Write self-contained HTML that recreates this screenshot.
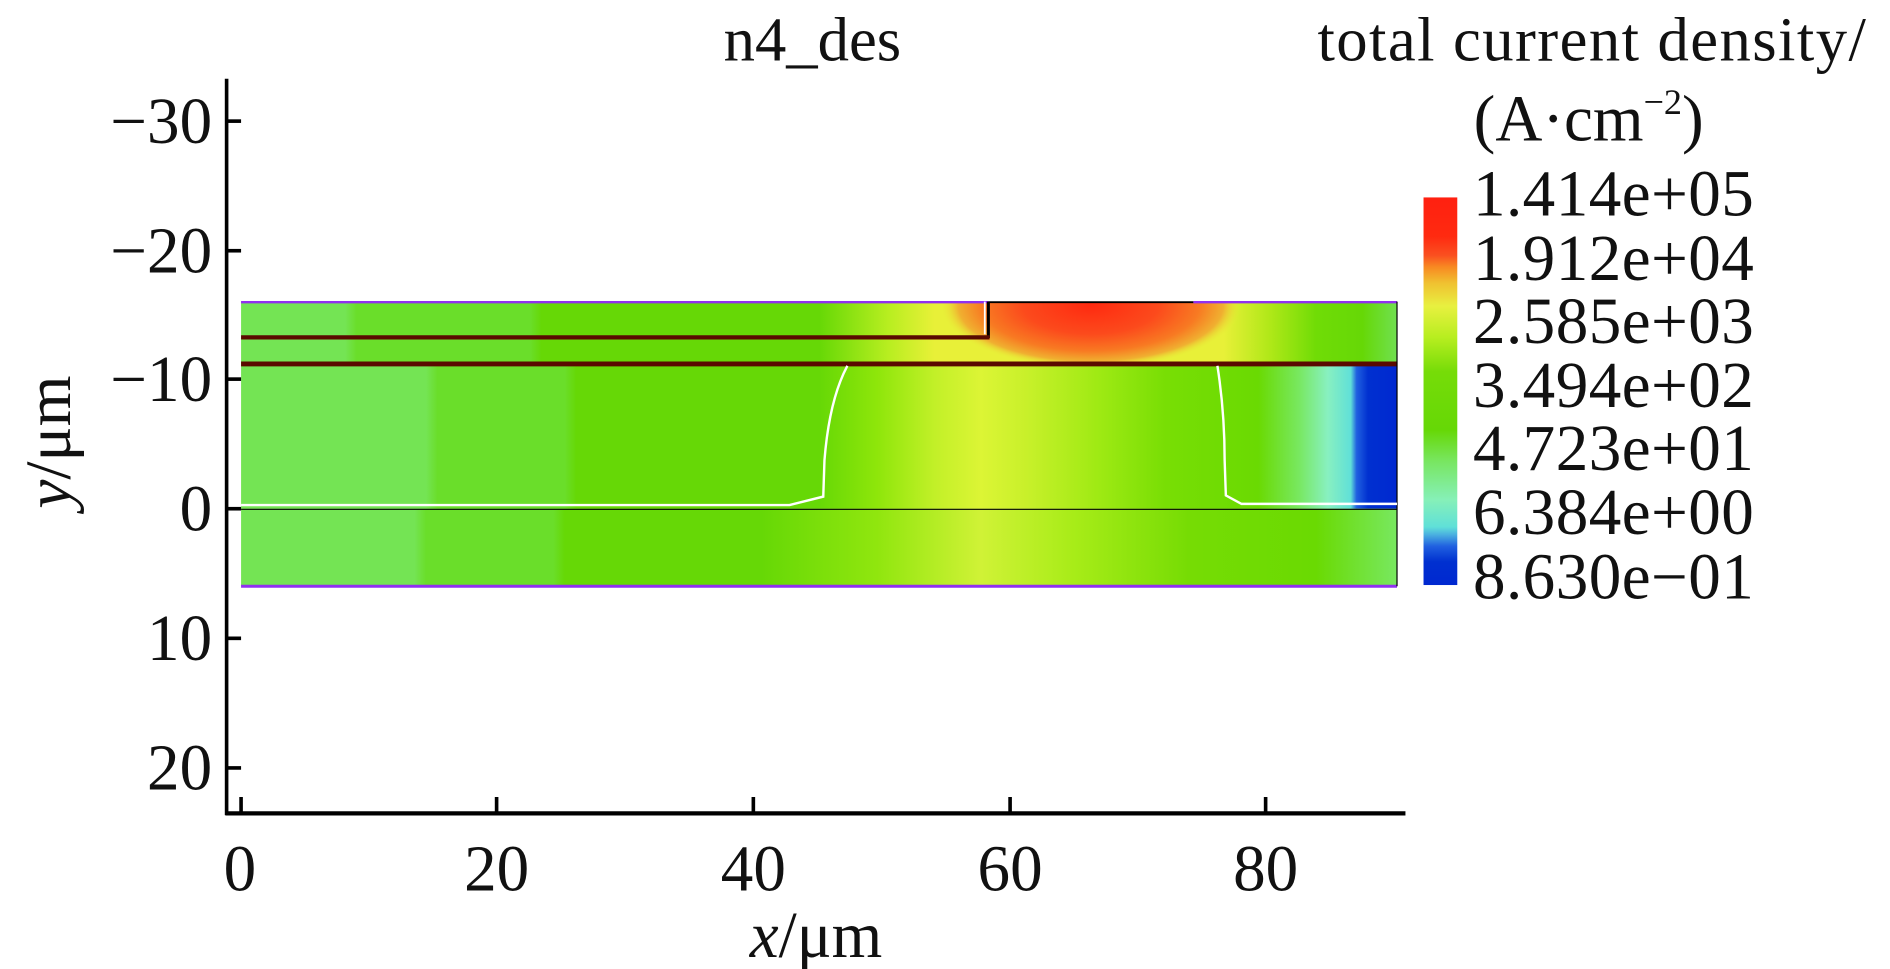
<!DOCTYPE html>
<html><head><meta charset="utf-8"><style>
html,body{margin:0;padding:0;background:#fff;width:1890px;height:969px;overflow:hidden}
svg{display:block}
text{font-family:"Liberation Serif",serif;fill:#111}
</style></head><body>
<svg width="1890" height="969" viewBox="0 0 1568 800" preserveAspectRatio="none">
<defs>
<clipPath id="ctop"><rect x="200" y="249" width="959" height="51"/></clipPath>
<linearGradient id="gmid" x1="200" x2="1159" gradientUnits="userSpaceOnUse">
<stop offset="0" stop-color="#74e454"/><stop offset="0.16" stop-color="#74e454"/>
<stop offset="0.17" stop-color="#6ade2a"/><stop offset="0.28" stop-color="#6ade2a"/>
<stop offset="0.29" stop-color="#66d806"/><stop offset="0.5" stop-color="#66d806"/>
<stop offset="0.55" stop-color="#8ee60a"/><stop offset="0.6" stop-color="#c2f028"/>
<stop offset="0.64" stop-color="#dcf535"/><stop offset="0.68" stop-color="#c8f02a"/>
<stop offset="0.74" stop-color="#a0ea14"/><stop offset="0.8" stop-color="#78de04"/>
<stop offset="0.88" stop-color="#6ada02"/><stop offset="0.915" stop-color="#78e860"/>
<stop offset="0.94" stop-color="#88f0c0"/><stop offset="0.96" stop-color="#60e0d8"/>
<stop offset="0.965" stop-color="#2060e0"/><stop offset="0.975" stop-color="#0030d0"/><stop offset="1" stop-color="#0028d0"/>
</linearGradient>
<linearGradient id="gbot" x1="200" x2="1159" gradientUnits="userSpaceOnUse">
<stop offset="0" stop-color="#74e454"/><stop offset="0.15" stop-color="#74e454"/>
<stop offset="0.16" stop-color="#6ade2a"/><stop offset="0.27" stop-color="#6ade2a"/>
<stop offset="0.28" stop-color="#66d806"/><stop offset="0.45" stop-color="#66d806"/>
<stop offset="0.55" stop-color="#90e60e"/><stop offset="0.64" stop-color="#d0f236"/>
<stop offset="0.72" stop-color="#a8ec18"/><stop offset="0.82" stop-color="#76dc04"/>
<stop offset="0.93" stop-color="#6ada02"/><stop offset="1" stop-color="#78e860"/>
</linearGradient>
<linearGradient id="gtop" x1="200" x2="1159" gradientUnits="userSpaceOnUse">
<stop offset="0" stop-color="#74e454"/><stop offset="0.09" stop-color="#74e454"/>
<stop offset="0.1" stop-color="#6ade2a"/><stop offset="0.25" stop-color="#6ade2a"/>
<stop offset="0.26" stop-color="#66d806"/><stop offset="0.5" stop-color="#66d806"/>
<stop offset="0.56" stop-color="#b8ee20"/><stop offset="0.6" stop-color="#e8f038"/>
<stop offset="0.85" stop-color="#e8f038"/>
<stop offset="0.89" stop-color="#b0e818"/><stop offset="0.93" stop-color="#70dc06"/>
<stop offset="0.97" stop-color="#66d806"/><stop offset="1" stop-color="#70e050"/>
</linearGradient>
<radialGradient id="gred" cx="905" cy="252" r="125" gradientTransform="translate(905 252) scale(1 0.42) translate(-905 -252)" gradientUnits="userSpaceOnUse">
<stop offset="0" stop-color="#ff2a10"/><stop offset="0.45" stop-color="#fc4a1c"/>
<stop offset="0.72" stop-color="#f87a22"/><stop offset="0.88" stop-color="#f0b030"/><stop offset="1" stop-color="#e8f038" stop-opacity="0"/>
</radialGradient>
<linearGradient id="cbar" x1="0" y1="163" x2="0" y2="483" gradientUnits="userSpaceOnUse">
<stop offset="0" stop-color="#ff2010"/><stop offset="0.1" stop-color="#ff2a10"/>
<stop offset="0.15" stop-color="#fa5020"/><stop offset="0.18" stop-color="#f88a22"/>
<stop offset="0.22" stop-color="#f0c030"/><stop offset="0.28" stop-color="#e8f040"/>
<stop offset="0.36" stop-color="#b8ee20"/><stop offset="0.45" stop-color="#76dc08"/>
<stop offset="0.6" stop-color="#66d806"/><stop offset="0.68" stop-color="#78e660"/>
<stop offset="0.78" stop-color="#86f0b8"/><stop offset="0.85" stop-color="#60e0d8"/>
<stop offset="0.87" stop-color="#4ab0e0"/><stop offset="0.9" stop-color="#2060e0"/>
<stop offset="0.94" stop-color="#0030d0"/><stop offset="1" stop-color="#0028d0"/>
</linearGradient>
</defs>

<!-- field -->
<rect x="200" y="249" width="959" height="51" fill="url(#gtop)"/>
<g clip-path="url(#ctop)"><ellipse cx="905" cy="252" rx="125" ry="53" fill="url(#gred)"/></g>
<rect x="200" y="300" width="959" height="120" fill="url(#gmid)"/>
<rect x="200" y="420" width="959" height="64" fill="url(#gbot)"/>

<!-- boundaries -->
<line x1="200" y1="249.5" x2="820" y2="249.5" stroke="#9030f0" stroke-width="2"/>
<line x1="990" y1="249.5" x2="1159" y2="249.5" stroke="#9030f0" stroke-width="2"/>
<line x1="820" y1="249.5" x2="990" y2="249.5" stroke="#000" stroke-width="1.5"/>
<line x1="820" y1="249" x2="820" y2="279" stroke="#000" stroke-width="2.5"/>
<line x1="817" y1="249" x2="817" y2="276" stroke="#fff" stroke-width="1.5"/>
<line x1="200" y1="278.5" x2="821" y2="278.5" stroke="#5a0a00" stroke-width="3.5"/>
<line x1="200" y1="300.5" x2="1159" y2="300.5" stroke="#5a0a00" stroke-width="4"/>
<line x1="200" y1="484" x2="1159" y2="484" stroke="#9030f0" stroke-width="2.5"/>
<line x1="1159" y1="249" x2="1159" y2="484" stroke="#000" stroke-width="1"/>
<path d="M200 417 L655 417 L683 410 L684 380 Q688 330 703 302" fill="none" stroke="#fff" stroke-width="2"/>
<path d="M1010 302 Q1016 340 1016 380 L1017 409 L1030 416 L1159 416" fill="none" stroke="#fff" stroke-width="2"/>
<line x1="200" y1="420.5" x2="1159" y2="420.5" stroke="#000" stroke-width="1"/>

<!-- axes -->
<line x1="188" y1="65" x2="188" y2="673" stroke="#000" stroke-width="3"/>
<line x1="187" y1="671.5" x2="1166" y2="671.5" stroke="#000" stroke-width="3.5"/>
<g stroke="#000" stroke-width="3">
<line x1="188" y1="100" x2="200" y2="100"/><line x1="188" y1="207" x2="200" y2="207"/>
<line x1="188" y1="313" x2="200" y2="313"/><line x1="188" y1="420" x2="200" y2="420"/>
<line x1="188" y1="527" x2="200" y2="527"/><line x1="188" y1="634" x2="200" y2="634"/>
<line x1="200" y1="658" x2="200" y2="671"/><line x1="412" y1="658" x2="412" y2="671"/>
<line x1="625" y1="658" x2="625" y2="671"/><line x1="838" y1="658" x2="838" y2="671"/>
<line x1="1050" y1="658" x2="1050" y2="671"/>
</g>
<g font-size="54" text-anchor="end">
<text x="176" y="118">−30</text><text x="176" y="225">−20</text><text x="176" y="331">−10</text>
<text x="176" y="438">0</text><text x="176" y="545">10</text><text x="176" y="652">20</text>
</g>
<g font-size="54" text-anchor="middle">
<text x="199" y="735">0</text><text x="412" y="735">20</text><text x="625" y="735">40</text>
<text x="838" y="735">60</text><text x="1050" y="735">80</text>
</g>
<text x="677" y="790" font-size="54" text-anchor="middle"><tspan font-style="italic">x</tspan>/μm</text>
<text transform="translate(58 365) rotate(-90)" font-size="54" text-anchor="middle"><tspan font-style="italic">y</tspan>/μm</text>
<text x="674" y="50" font-size="52" text-anchor="middle">n4_des</text>
<text x="1548" y="50" font-size="52" text-anchor="end" textLength="455">total current density/</text>
<text x="1318" y="116" font-size="54" text-anchor="middle">(A·cm<tspan font-size="30" dy="-22">−2</tspan><tspan dy="22">)</tspan></text>

<!-- colorbar -->
<rect x="1181" y="163" width="28" height="320" fill="url(#cbar)"/>
<g font-size="54">
<text x="1222" y="178" textLength="233">1.414e+05</text><text x="1222" y="231" textLength="233">1.912e+04</text>
<text x="1222" y="283" textLength="233">2.585e+03</text><text x="1222" y="336" textLength="233">3.494e+02</text>
<text x="1222" y="388" textLength="233">4.723e+01</text><text x="1222" y="441" textLength="233">6.384e+00</text>
<text x="1222" y="494" textLength="233">8.630e−01</text>
</g>
</svg>
</body></html>
